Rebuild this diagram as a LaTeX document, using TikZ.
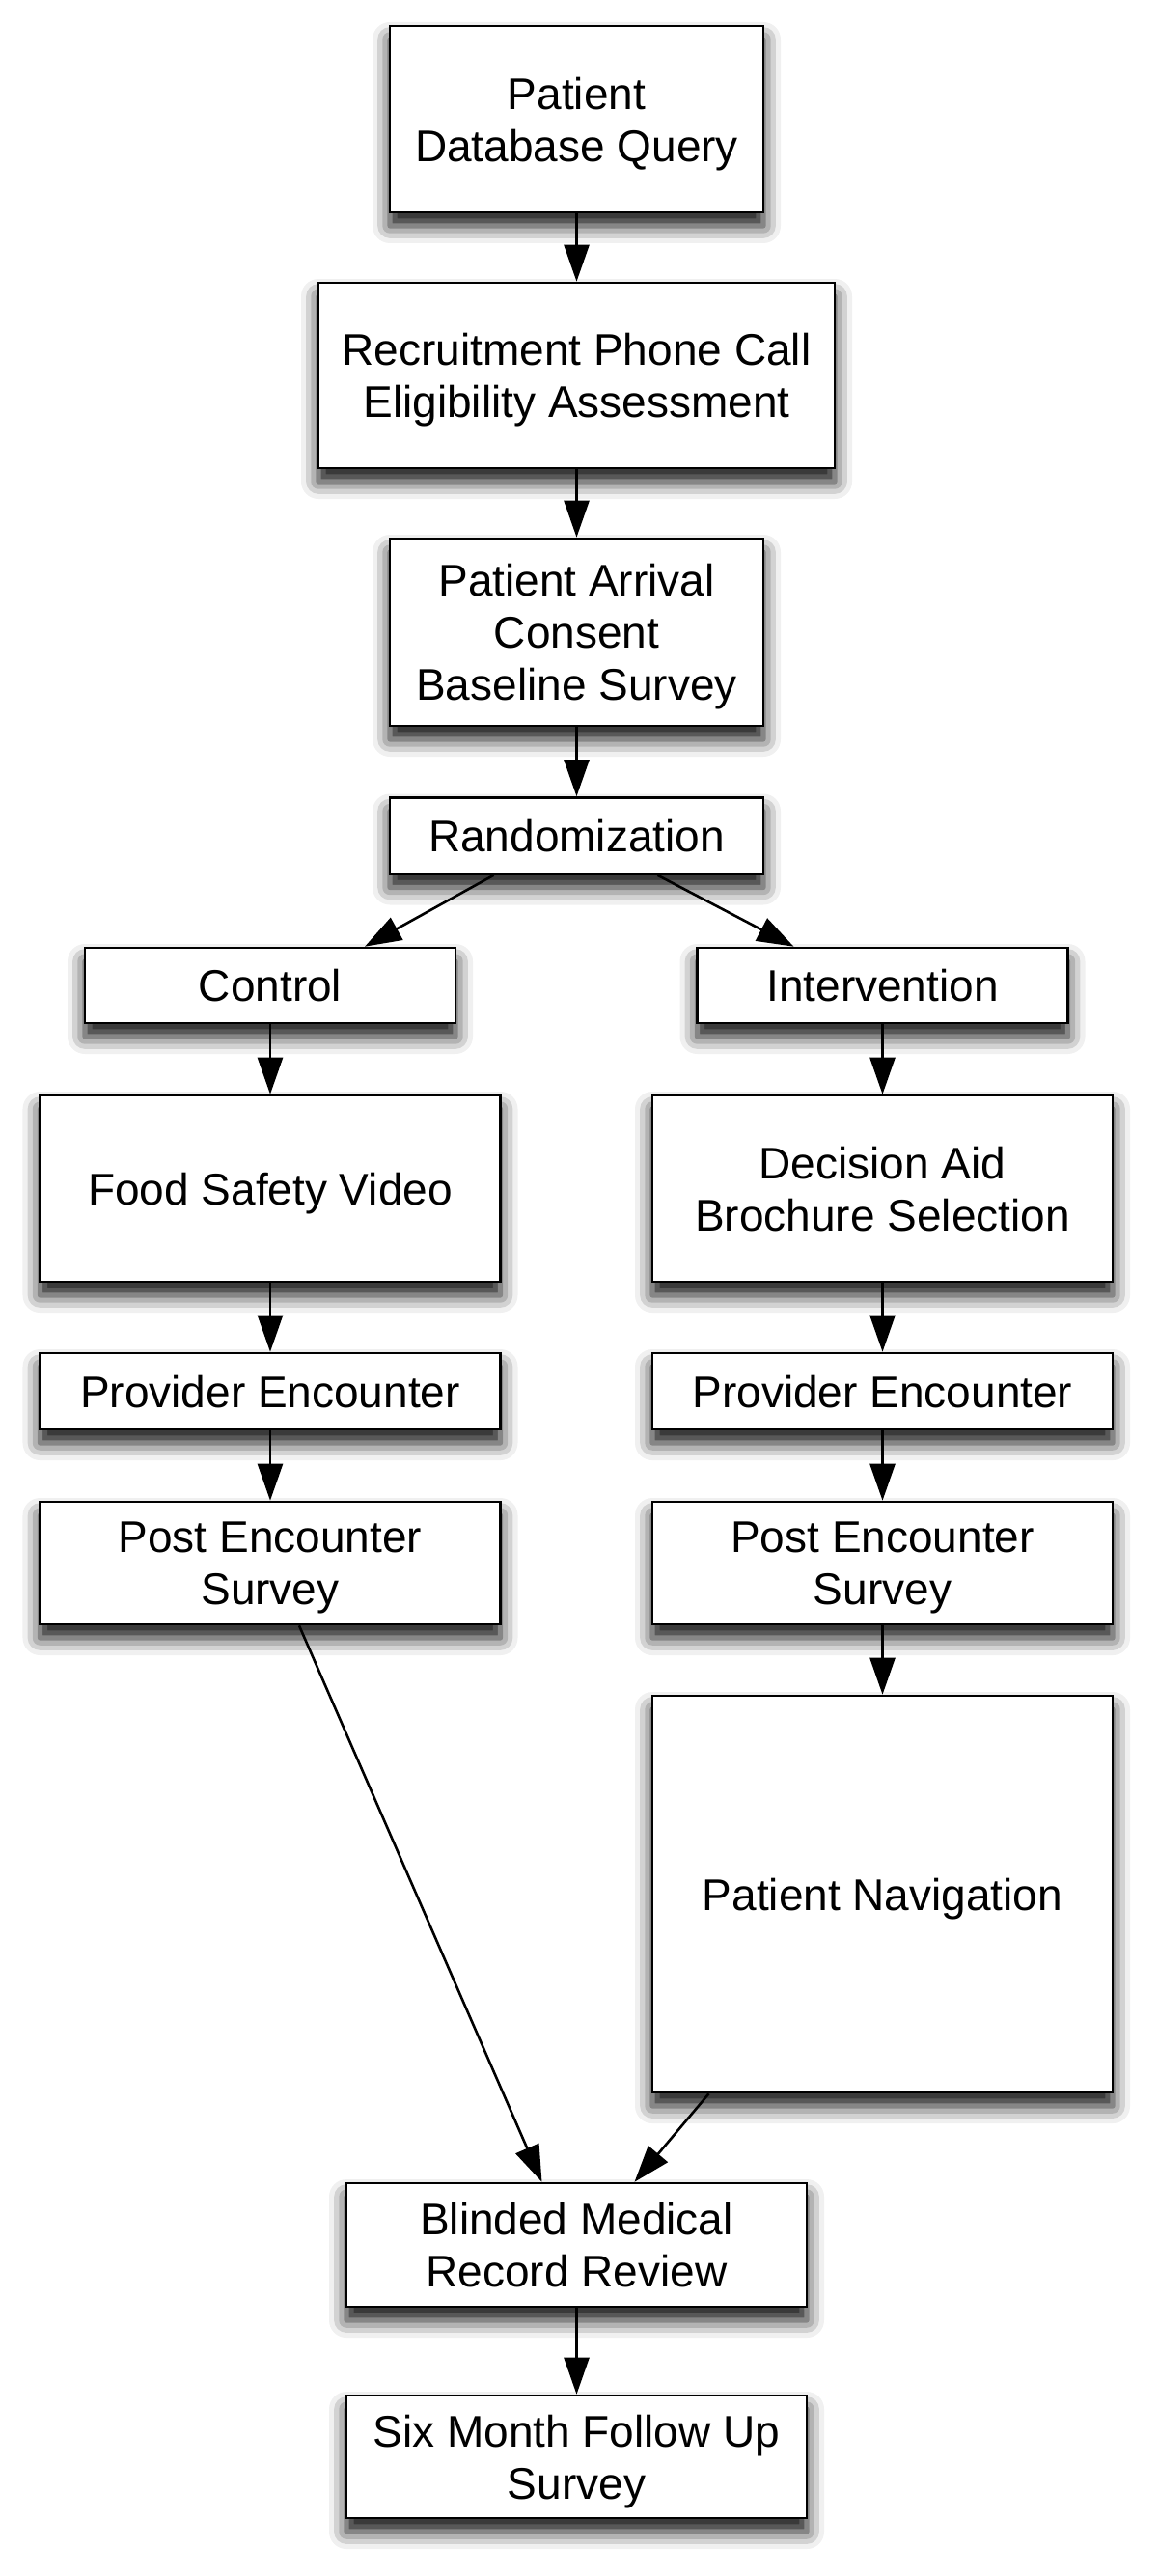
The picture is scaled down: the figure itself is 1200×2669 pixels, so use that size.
\documentclass[tikz,border=0pt]{standalone}
\usepackage{fontspec}
\setmainfont{Liberation Sans}
\usetikzlibrary{arrows.meta}
\usetikzlibrary{shadows.blur}

\begin{document}
\begin{tikzpicture}[x=0.5pt, y=-0.5pt,
    box/.style={draw, line width=1.3pt, fill=white, align=center, inner sep=0pt,
        text depth=0pt, font=\fontsize{23}{27}\selectfont,
        blur shadow={shadow xshift=0pt, shadow yshift=-7pt, shadow blur radius=9pt, shadow opacity=95}},
    wide/.style={box, minimum width=238.5pt},
    flow/.style={-{Triangle[length=19pt,width=13pt]}, line width=1.3pt}]
    \useasboundingbox (0,0) rectangle (1200,2669);

    % enrolment
    \node[box, minimum width=193.5pt, minimum height=96.5pt] (pdq) at (597.5,123.5) {Patient\\Database Query};
    \node[box, minimum width=267.5pt, minimum height=96pt] (recruit) at (597.5,389) {Recruitment Phone Call\\Eligibility Assessment};
    \node[box, minimum width=193.5pt, minimum height=97pt] (arrival) at (597.5,655) {Patient Arrival\\Consent\\Baseline Survey};
    \node[box, minimum width=193.5pt, minimum height=39.5pt] (rand) at (597.5,866) {Randomization};

    % control arm
    \node[box, minimum width=192pt, minimum height=39pt] (ctrl) at (280,1021) {Control};
    \node[wide, minimum height=96.5pt] (video) at (280,1231.5) {Food Safety Video};
    \node[wide, minimum height=39.5pt] (provL) at (280,1441.5) {Provider Encounter};
    \node[wide, minimum height=63.5pt] (postL) at (280,1619.5) {Post Encounter\\Survey};

    % intervention arm
    \node[box, minimum width=192pt, minimum height=39pt] (intv) at (914.5,1021) {Intervention};
    \node[wide, minimum height=96.5pt] (aid) at (914.5,1231.5) {Decision Aid\\Brochure Selection};
    \node[wide, minimum height=39.5pt] (provR) at (914.5,1441.5) {Provider Encounter};
    \node[wide, minimum height=63.5pt] (postR) at (914.5,1619.5) {Post Encounter\\Survey};
    \node[wide, minimum height=205.5pt] (nav) at (914.5,1962.5) {Patient Navigation};

    % follow up
    \node[wide, minimum height=64pt] (blind) at (597.5,2326) {Blinded Medical\\Record Review};
    \node[wide, minimum height=63.5pt] (six) at (597.5,2545.5) {Six Month Follow Up\\Survey};

    \foreach \a/\b in {pdq/recruit, recruit/arrival, arrival/rand,
        ctrl/video, video/provL, provL/postL,
        intv/aid, aid/provR, provR/postR, postR/nav, blind/six}
        \draw[flow] (\a.south) -- (\b.north);

    \draw[flow] ([xshift=-43pt]rand.south) -- ([xshift=49pt]ctrl.north);
    \draw[flow] ([xshift=42pt]rand.south) -- ([xshift=-46pt]intv.north);
    \draw[flow] ([xshift=15pt]postL.south) -- ([xshift=-18pt]blind.north);
    \draw[flow] ([xshift=-90pt]nav.south) -- ([xshift=30pt]blind.north);
\end{tikzpicture}
\end{document}
